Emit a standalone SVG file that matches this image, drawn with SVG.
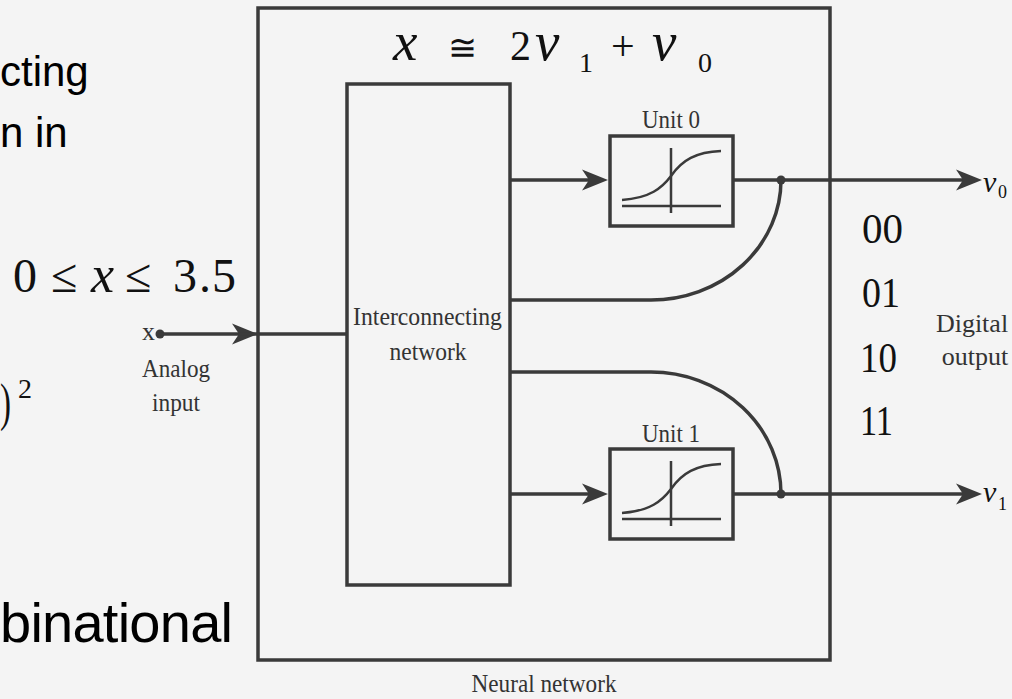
<svg xmlns="http://www.w3.org/2000/svg" width="1012" height="699" viewBox="0 0 1012 699">
<style>
.bg{fill:#f4f4f4}
.box{fill:none;stroke:#3a3a3a;stroke-width:3.5}
.ln{fill:none;stroke:#3a3a3a;stroke-width:3.5}
.thin{fill:none;stroke:#3a3a3a;stroke-width:2.5}
.lbl{font-family:"Liberation Serif","Times New Roman",serif;fill:#333;font-size:26px}
.eq{font-family:"Liberation Serif","Times New Roman",serif;fill:#111}
.it{font-style:italic}
.sym{font-family:"DejaVu Serif","Liberation Serif",serif;fill:#111}
.code{font-family:"Liberation Serif","Times New Roman",serif;fill:#111;font-size:43px}
.sans{font-family:"Liberation Sans",Arial,sans-serif;fill:#000}
.dot{fill:#3a3a3a}
</style>
<defs>
<marker id="ah" viewBox="-9 -12 28 24" refX="0" refY="0" markerWidth="28" markerHeight="24" markerUnits="userSpaceOnUse" orient="auto">
<path d="M18,0 L-8,-10.5 L-1,0 L-8,10.5 Z" fill="#3a3a3a"/>
</marker>
<g id="sig">
<rect x="0" y="0" width="123" height="90" class="box"/>
<line x1="61" y1="12" x2="61" y2="77" class="thin"/>
<line x1="12" y1="70" x2="111" y2="70" class="thin"/>
<path d="M12,64 C40,62 52,52 61,40 C72,24 86,16 111,15" class="thin"/>
</g>
</defs>
<rect class="bg" x="0" y="0" width="1012" height="699"/>

<!-- slide text fragments -->
<g id="slide-text">
<text class="sans" x="0" y="86" font-size="42">cting</text>
<text class="sans" x="0" y="147" font-size="42">n in</text>
<text class="sans" x="0" y="642" font-size="56" textLength="233" lengthAdjust="spacing">binational</text>
<text class="eq" x="13" y="292" font-size="48">0</text>
<text class="eq" x="51" y="292" font-size="48">≤</text>
<text class="eq it" x="91" y="292" font-size="52">x</text>
<text class="eq" x="125" y="292" font-size="48">≤</text>
<text class="eq" x="173" y="292" font-size="48">3</text>
<text class="eq" x="199" y="292" font-size="48">.</text>
<text class="eq" x="212" y="292" font-size="48">5</text>
<text class="eq" x="0" y="420" font-size="52" textLength="11" lengthAdjust="spacingAndGlyphs">)</text>
<text class="eq" x="18" y="398" font-size="28">2</text>
<text class="eq it" x="393" y="60" font-size="55">x</text>
<text class="sym" x="448" y="60" font-size="36" textLength="29" lengthAdjust="spacingAndGlyphs">≅</text>
<text class="eq" x="510" y="60" font-size="42">2</text>
<text class="eq it" x="535" y="60" font-size="55">v</text>
<text class="eq" x="579" y="72" font-size="28">1</text>
<text class="eq" x="611" y="60" font-size="42">+</text>
<text class="eq it" x="652" y="60" font-size="55">v</text>
<text class="eq" x="698" y="72" font-size="28">0</text>
<text class="code" x="862" y="243" textLength="41" lengthAdjust="spacingAndGlyphs">00</text>
<text class="code" x="862" y="307" textLength="38" lengthAdjust="spacingAndGlyphs">01</text>
<text class="code" x="860" y="372" textLength="37" lengthAdjust="spacingAndGlyphs">10</text>
<text class="code" x="860" y="435" textLength="33" lengthAdjust="spacingAndGlyphs">11</text>
</g>

<!-- nodes -->
<g id="neural-network">
<rect class="box" x="258" y="8" width="572" height="652"/>
<text class="lbl" x="544" y="692" text-anchor="middle" textLength="145" lengthAdjust="spacingAndGlyphs">Neural network</text>
</g>
<g id="interconnecting-network">
<rect class="box" x="347" y="84" width="163" height="501"/>
<text class="lbl" x="427.5" y="325" text-anchor="middle" font-size="27" textLength="149" lengthAdjust="spacingAndGlyphs">Interconnecting</text>
<text class="lbl" x="428" y="360" text-anchor="middle" font-size="27" textLength="77" lengthAdjust="spacingAndGlyphs">network</text>
</g>
<g id="unit0">
<use href="#sig" x="610" y="136"/>
<text class="lbl" x="671" y="128" text-anchor="middle" font-size="24" textLength="58" lengthAdjust="spacingAndGlyphs">Unit 0</text>
</g>
<g id="unit1">
<use href="#sig" x="610" y="449"/>
<text class="lbl" x="671" y="442" text-anchor="middle" font-size="24" textLength="58" lengthAdjust="spacingAndGlyphs">Unit 1</text>
</g>
<g id="analog-input">
<circle class="dot" cx="160" cy="334" r="4.5"/>
<text class="lbl" x="142" y="340" font-size="26">x</text>
<text class="lbl" x="176" y="377" text-anchor="middle" font-size="26" textLength="68" lengthAdjust="spacingAndGlyphs">Analog</text>
<text class="lbl" x="176" y="411" text-anchor="middle" font-size="26" textLength="48" lengthAdjust="spacingAndGlyphs">input</text>
</g>
<g id="digital-output">
<text class="lbl" x="972" y="332" text-anchor="middle" font-size="24">Digital</text>
<text class="lbl" x="975" y="365" text-anchor="middle" font-size="24">output</text>
<text class="eq it" x="983" y="192" font-size="30">v</text>
<text class="eq" x="998" y="198" font-size="18">0</text>
<text class="eq it" x="983" y="502" font-size="30">v</text>
<text class="eq" x="998" y="510" font-size="18">1</text>
</g>

<!-- connectors -->
<g id="connectors">
<path class="ln" d="M160,334 L240,334" marker-end="url(#ah)"/>
<path class="ln" d="M240,334 L347,334"/>
<path class="ln" d="M510,180 L590,180" marker-end="url(#ah)"/>
<path class="ln" d="M510,494 L590,494" marker-end="url(#ah)"/>
<path class="ln" d="M733,180 L964,180" marker-end="url(#ah)"/>
<path class="ln" d="M733,494 L964,494" marker-end="url(#ah)"/>
<path class="ln" d="M510,300 L651,300 A130,120 0 0 0 781,180"/>
<path class="ln" d="M510,372 L651,372 A130,122 0 0 1 781,494"/>
<circle class="dot" cx="781" cy="180" r="4.5"/>
<circle class="dot" cx="781" cy="494" r="4.5"/>
</g>
</svg>
